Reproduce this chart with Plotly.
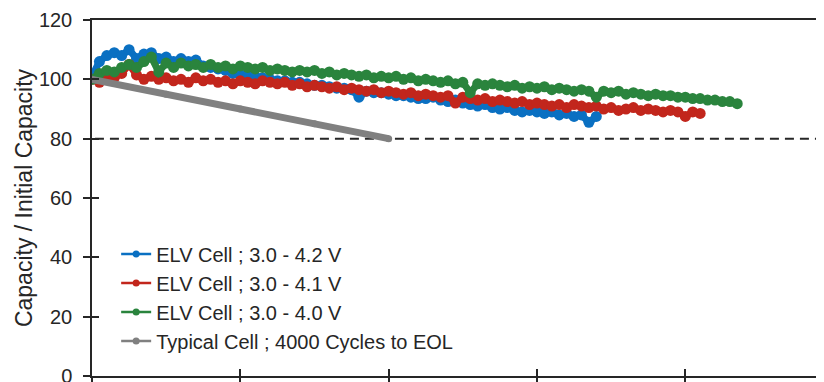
import plotly.graph_objects as go

CYCLE_STEP = 100

blue_42 = [101, 106, 108, 109, 108, 110, 107, 108.5, 109, 107, 107.5, 106, 107, 106, 106.5, 104.5,
           104, 103.5, 103, 102, 101.5, 101, 101, 100.5, 100, 99.5, 99.5, 99, 99, 98.5,
           98, 98, 97.5, 97, 97, 96.5, 94, 96, 95.5, 95.5, 95, 94.5, 94.5, 94, 93.5, 93.5,
           94, 93, 92.5, 93, 92, 91.5, 91, 91.5, 90.5, 90, 90.5, 89.5, 89, 89.5, 89, 88.5,
           89, 88, 88.5, 87.5, 88, 85.5, 87.5]

red_41 = [100, 99, 101, 100.5, 102, 105, 101.5, 100, 101, 100, 100.5, 99.5, 100, 99, 100.5, 99.5,
          100, 99, 99.5, 98.5, 99.5, 99, 98.5, 99.5, 99, 98.5, 99, 98, 98.5, 97.5,
          98, 97.5, 97, 97.5, 96.5, 97, 96.5, 96, 96.5, 95.5, 96, 95.5, 95, 95.5, 94.5, 95,
          94.5, 94, 94.5, 92, 94, 93.5, 93, 93.5, 92.5, 93, 92.5, 92, 92.5, 91.5, 92,
          91.5, 91, 91.5, 90.5, 91.5, 91, 90.5, 91, 90, 90.5, 89.5, 90, 90.5, 89.5, 90,
          89.5, 89, 89.5, 89, 87.5, 89, 88.5]

green_40 = [100, 102, 103, 102.5, 104, 105, 104, 106, 107.5, 102.5, 105.5, 104, 105.5, 104.5, 105, 104,
            105, 104, 104.5, 103.5, 104.5, 104, 103.5, 104, 103, 103.5, 103, 102.5, 103, 102.5,
            103, 102, 102.5, 101.5, 102, 101.5, 101, 101.5, 100.5, 101, 100.5, 101, 100, 100.5,
            99.5, 100, 99.5, 99, 99.5, 98.5, 99, 95.5, 98.5, 98, 98.5, 98, 97.5, 98, 97, 97.5,
            97, 97.5, 96.5, 97, 96.5, 96, 96.5, 96, 94, 96, 95.5, 96, 95, 95.5, 95, 94.5,
            95, 94.5, 94.5, 94, 94, 93.5, 93.5, 93, 93, 92.5, 92.5, 91.8]

typical_cycles = [0, 1000, 2000, 3000, 4000]
typical_cap = [100, 95, 90, 85, 80]

eol_level = 80
y_ticks = [0, 20, 40, 60, 80, 100, 120]
x_ticks = [0, 2000, 4000, 6000, 8000]

names = ["ELV Cell ; 3.0 - 4.2 V", "ELV Cell ; 3.0 - 4.1 V", "ELV Cell ; 3.0 - 4.0 V",
         "Typical Cell ; 4000 Cycles to EOL"]
colors = ["#0A70C2", "#C2261C", "#2A843D", "#808080"]

fig = go.Figure()
for vals, col in zip([blue_42, red_41, green_40], colors[:3]):
    xs = [i * CYCLE_STEP for i in range(len(vals))]
    fig.add_trace(go.Scatter(x=xs, y=vals, mode="lines+markers", showlegend=False,
                             line=dict(color=col, width=7), marker=dict(color=col, size=11)))
fig.add_trace(go.Scatter(x=typical_cycles, y=typical_cap, mode="lines+markers", showlegend=False,
                         line=dict(color=colors[3], width=7), marker=dict(color=colors[3], size=7)))

# legend entries
for nm, col in zip(names, colors):
    fig.add_trace(go.Scatter(x=[None], y=[None], mode="lines+markers", name=nm,
                             line=dict(color=col, width=2.5), marker=dict(color=col, size=7)))

# dummy for overlay axes (inside ticks)
fig.add_trace(go.Scatter(x=[None], y=[None], xaxis="x2", yaxis="y2", showlegend=False))

fig.add_shape(type="line", xref="paper", x0=0.004, x1=1, yref="y", y0=eol_level, y1=eol_level,
              line=dict(color="#262626", width=2, dash="9px,6px"), layer="below")

XMAX = 9870
axis_col = "#262626"
font_family = "Arial, Liberation Sans, sans-serif"

# page body has an 8px default margin; figure is sized to fill the rest of the window
fig.update_layout(
    width=816, height=374,
    margin=dict(l=84, r=0, t=12, b=6),
    paper_bgcolor="white", plot_bgcolor="white",
    font=dict(family=font_family, color="#262626"),
    xaxis=dict(range=[0, XMAX], tickvals=x_ticks, showticklabels=False, ticks="outside",
               ticklen=7, tickwidth=1.5, tickcolor=axis_col, showline=True, linecolor=axis_col,
               linewidth=1.5, mirror=True, showgrid=False, zeroline=False, automargin=False),
    yaxis=dict(range=[0, 120], tickvals=y_ticks, ticks="outside", ticklen=7, tickwidth=1.5,
               tickcolor=axis_col, showline=True, linecolor=axis_col, linewidth=1.5,
               showgrid=False, zeroline=False, tickfont=dict(size=20, color="#262626"),
               ticklabelstandoff=7, ticklabeloverflow="allow", automargin=False,
               title=dict(text="Capacity / Initial Capacity", font=dict(size=23, color="#262626"),
                          standoff=0)),
    xaxis2=dict(range=[0, XMAX], tickvals=x_ticks, showticklabels=False, ticks="inside",
                ticklen=7, tickwidth=1.5, tickcolor=axis_col, showline=False, showgrid=False,
                zeroline=False, overlaying="x", anchor="y2", side="bottom", automargin=False),
    yaxis2=dict(range=[0, 120], tickvals=y_ticks, showticklabels=False, ticks="inside",
                ticklen=7, tickwidth=1.5, tickcolor=axis_col, showline=False, showgrid=False,
                zeroline=False, overlaying="y", anchor="x2", side="left", automargin=False),
    legend=dict(x=0.033, y=0.3975, xanchor="left", yanchor="top", bgcolor="rgba(0,0,0,0)",
                font=dict(size=20, color="#262626"), tracegroupgap=0),
)

fig.write_html("out.html")
